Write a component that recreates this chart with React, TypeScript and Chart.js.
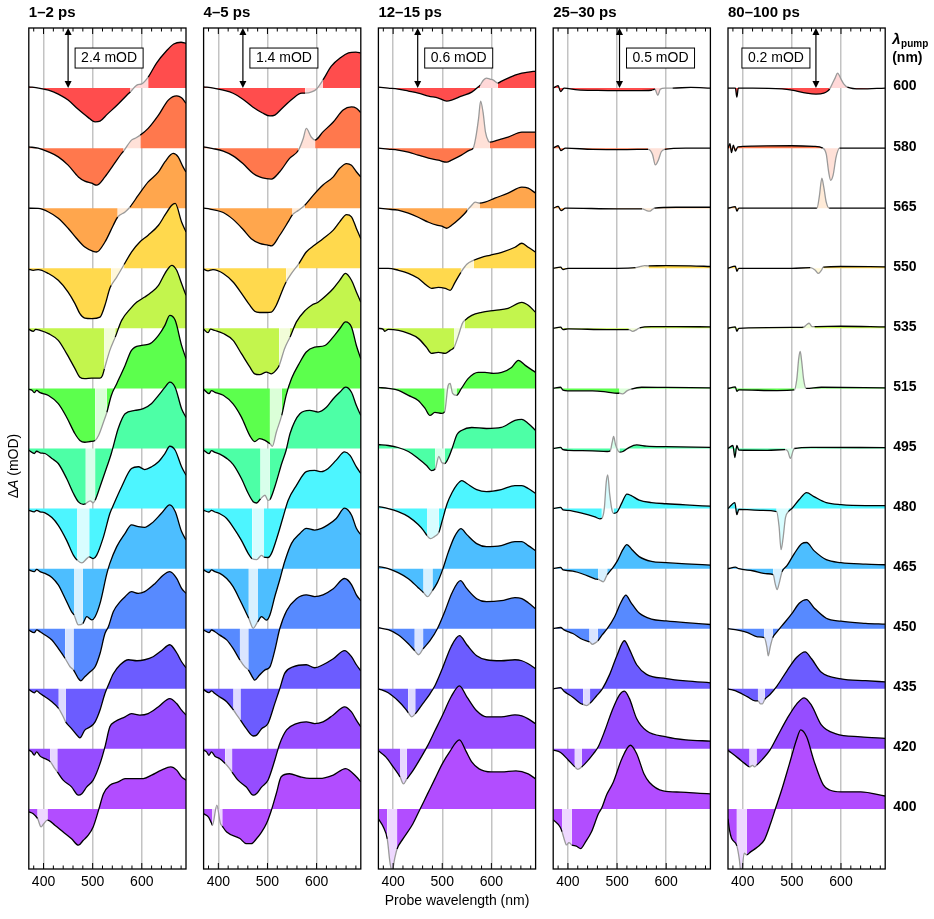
import { useEffect, useRef } from 'react';
import { Chart, registerables } from 'chart.js';

Chart.register(...registerables);

type Pt = [number, number];

// Pump wavelengths (nm), bottom trace first
const pumpNm = [400, 420, 435, 450, 465, 480, 495, 515, 535, 550, 565, 580, 600];
const pumpColor = ['#b24dff', '#964dff', '#6c5cff', '#578aff', '#4dbeff', '#4df5ff', '#4dffa6', '#5cff4d', '#c3f54d', '#ffd94d', '#ffa64d', '#ff784d', '#ff4d4d'];
// Probe window masked by pump scatter (nm)
const scatterFrom = [388, 414, 431, 444, 462, 469, 486, 505, 524, 538, 551, 563, 577];
const scatterTo = [408, 428, 445, 461, 480, 493, 505, 529, 546, 564, 576, 597, 613];

const delayLabel = ['1–2 ps', '4–5 ps', '12–15 ps', '25–30 ps', '80–100 ps'];
const offsetMOD = [2.4, 1.4, 0.6, 0.5, 0.2];
const scaleBarNm = [450, 450, 450, 505, 549];
const probeTicksNm = [380, 400, 420, 440, 460, 480, 500, 520, 540, 560, 580, 600, 620, 640, 660, 680];
const probeLabelNm = [400, 500, 600];

// ΔA spectra (mOD) as [probe nm, value], one list per pump wavelength
const dA_1to2ps: Pt[][] = [
  [[370,-0.12],[379,-0.19],[388,-0.39],[395,-0.72],[400,-0.6],[408,-0.45],[423,-0.65],[440,-0.92],[457,-1.19],[471,-1.45],[481,-1.25],[491,-1.05],[501,-0.72],[512,-0.05],[522,0.61],[535,0.95],[552,1.08],[566,1.21],[586,1.21],[603,1.21],[620,1.35],[640,1.55],[659,1.68],[671,1.55],[681,1.28],[690,1.15]],
  [[370,-0.05],[376,-0.12],[381,-0.25],[386,-0.12],[393,-0.29],[403,-0.39],[414,-0.52],[423,-0.79],[428,-0.92],[440,-1.25],[457,-1.52],[471,-1.85],[478,-1.79],[488,-1.52],[501,-1.25],[515,-0.59],[525,0.08],[535,0.88],[545,1.08],[566,1.28],[579,1.41],[596,1.35],[613,1.41],[634,1.68],[657,2.01],[671,1.81],[681,1.55],[690,1.35]],
  [[370,-0.03],[381,-0.16],[386,-0.08],[393,-0.19],[403,-0.32],[417,-0.52],[431,-0.79],[440,-1.12],[445,-1.32],[457,-1.59],[471,-1.92],[474,-1.96],[484,-1.65],[495,-1.52],[505,-1.32],[515,-0.85],[525,-0.19],[532,0.15],[542,0.6],[556,0.96],[573,1.16],[590,1.12],[606,1.16],[623,1.28],[640,1.52],[657,1.76],[671,1.44],[681,1.08],[690,0.84]],
  [[370,-0.05],[381,-0.16],[386,-0.05],[393,-0.12],[403,-0.25],[417,-0.45],[430,-0.79],[444,-1.19],[454,-1.52],[461,-1.65],[471,-1.99],[476,-2.08],[484,-1.92],[495,-1.72],[505,-1.52],[515,-0.99],[525,-0.19],[532,0.08],[542,0.68],[556,1.08],[566,1.28],[579,1.48],[593,1.41],[606,1.48],[627,1.81],[644,2.15],[657,2.28],[671,2.01],[681,1.61],[690,1.41]],
  [[370,-0.05],[381,-0.12],[386,-0.03],[393,-0.12],[403,-0.19],[417,-0.35],[430,-0.65],[444,-1.19],[457,-1.72],[462,-1.85],[471,-2.25],[480,-2.19],[488,-1.92],[498,-2.05],[505,-1.92],[515,-1.39],[529,-0.19],[535,0.21],[549,0.88],[566,1.41],[579,1.75],[593,1.68],[606,1.65],[620,1.81],[640,2.21],[657,2.55],[668,2.28],[681,1.48],[690,1.15]],
  [[370,-0.07],[381,-0.13],[386,-0.07],[393,-0.13],[403,-0.17],[417,-0.36],[430,-0.67],[447,-1.27],[461,-1.87],[469,-2.07],[478,-2.17],[488,-2.0],[493,-1.93],[501,-2.0],[508,-1.87],[522,-1.13],[535,-0.2],[542,0.13],[559,0.87],[579,1.6],[593,1.67],[606,1.56],[620,1.67],[634,1.87],[647,2.2],[657,2.49],[668,2.33],[681,1.67],[690,1.33]],
  [[370,-0.07],[381,-0.2],[386,-0.11],[393,-0.17],[403,-0.2],[417,-0.4],[430,-0.6],[447,-1.2],[461,-1.8],[471,-2.13],[481,-2.23],[486,-2.2],[495,-2.09],[501,-2.17],[505,-2.07],[515,-1.53],[529,-0.73],[538,-0.2],[552,0.8],[566,1.39],[586,1.52],[603,1.59],[620,1.8],[634,2.12],[647,2.44],[657,2.65],[668,2.44],[681,1.59],[690,1.24]],
  [[370,-0.04],[377,-0.08],[381,-0.17],[386,-0.08],[393,-0.17],[410,-0.28],[430,-0.61],[447,-1.15],[464,-1.81],[474,-2.08],[484,-2.15],[495,-2.12],[505,-2.08],[512,-1.88],[522,-1.35],[529,-0.95],[538,-0.28],[549,0.19],[566,0.92],[579,1.52],[600,1.72],[617,1.79],[634,2.12],[647,2.52],[657,2.92],[668,2.72],[681,1.72],[690,1.19]],
  [[370,-0.04],[379,-0.12],[384,-0.04],[393,-0.08],[410,-0.21],[430,-0.48],[447,-1.01],[464,-1.61],[474,-1.95],[484,-2.01],[498,-1.99],[515,-1.99],[520,-1.88],[524,-1.61],[535,-0.88],[546,-0.35],[559,0.32],[577,0.79],[590,1.05],[606,1.25],[620,1.45],[634,1.72],[647,2.19],[661,2.52],[671,2.32],[681,1.79],[690,1.32]],
  [[370,-0.04],[379,-0.08],[389,-0.05],[410,-0.21],[430,-0.48],[450,-0.95],[464,-1.41],[474,-1.81],[484,-1.99],[498,-2.01],[515,-1.95],[525,-1.48],[535,-0.8],[538,-0.68],[549,-0.35],[564,0.15],[579,0.65],[596,1.05],[613,1.32],[634,1.72],[647,2.12],[661,2.52],[668,2.59],[681,1.85],[690,1.45]],
  [[370,0],[389,-0.01],[410,-0.15],[430,-0.4],[450,-0.8],[467,-1.2],[484,-1.55],[501,-1.72],[508,-1.75],[525,-1.35],[542,-0.68],[551,-0.35],[566,-0.15],[576,0.05],[593,0.52],[613,1.05],[634,1.45],[647,1.85],[664,2.19],[674,2.05],[684,1.65],[690,1.45]],
  [[370,0.05],[389,0],[410,-0.15],[430,-0.35],[450,-0.68],[471,-1.15],[484,-1.32],[498,-1.4],[508,-1.48],[525,-1.15],[542,-0.68],[559,-0.21],[563,-0.12],[579,0.32],[586,0.39],[597,0.52],[613,0.79],[634,1.32],[654,1.92],[671,2.09],[681,2.01],[690,1.79]],
  [[370,0.05],[390,0],[410,-0.08],[430,-0.24],[450,-0.48],[470,-0.84],[490,-1.16],[505,-1.35],[515,-1.32],[530,-1.04],[550,-0.68],[570,-0.28],[577,-0.15],[590,0.12],[600,0.17],[613,0.44],[630,1.0],[650,1.48],[665,1.76],[680,1.83],[690,1.79]],
];

const dA_4to5ps: Pt[][] = [
  [[370,-0.11],[380,-0.19],[386,-0.33],[388,-0.38],[397,0.09],[404,-0.33],[408,-0.4],[417,-0.54],[444,-0.69],[457,-0.81],[467,-0.81],[478,-0.69],[488,-0.54],[498,-0.34],[508,-0.03],[518,0.36],[528,0.75],[545,0.82],[566,0.75],[586,0.71],[606,0.71],[634,0.79],[659,0.94],[681,0.75],[690,0.63]],
  [[370,-0.03],[376,-0.07],[381,-0.15],[386,-0.07],[393,-0.17],[403,-0.23],[414,-0.34],[423,-0.46],[428,-0.54],[440,-0.73],[457,-0.89],[471,-1.08],[478,-1.04],[488,-0.89],[501,-0.73],[515,-0.26],[525,0.12],[539,0.44],[559,0.59],[579,0.63],[596,0.59],[613,0.63],[634,0.79],[657,0.98],[671,0.86],[681,0.67],[690,0.51]],
  [[370,-0.02],[381,-0.09],[386,-0.05],[393,-0.11],[403,-0.19],[417,-0.3],[431,-0.5],[440,-0.65],[445,-0.73],[457,-0.93],[471,-1.1],[478,-1.08],[488,-0.93],[501,-0.81],[515,-0.34],[525,0],[535,0.36],[552,0.51],[579,0.56],[596,0.49],[613,0.56],[634,0.7],[657,0.89],[671,0.75],[681,0.56],[690,0.42]],
  [[370,-0.03],[381,-0.09],[386,-0.03],[393,-0.07],[403,-0.15],[417,-0.26],[430,-0.46],[444,-0.73],[454,-0.89],[461,-0.96],[471,-1.16],[474,-1.2],[484,-1.08],[495,-0.96],[505,-0.89],[515,-0.5],[525,0],[539,0.42],[559,0.7],[579,0.79],[596,0.75],[613,0.79],[634,0.93],[657,1.17],[671,1.03],[681,0.79],[690,0.65]],
  [[370,-0.03],[381,-0.09],[386,-0.03],[393,-0.07],[403,-0.11],[417,-0.23],[430,-0.42],[444,-0.73],[457,-1.04],[462,-1.16],[471,-1.39],[480,-1.24],[488,-1.12],[498,-1.2],[505,-1.08],[515,-0.65],[525,-0.26],[535,0.16],[549,0.59],[566,0.82],[579,0.94],[596,0.9],[610,0.94],[623,1.02],[640,1.17],[657,1.41],[671,1.25],[681,0.94],[690,0.79]],
  [[370,-0.04],[381,-0.08],[386,-0.04],[393,-0.08],[403,-0.12],[417,-0.23],[430,-0.43],[447,-0.74],[461,-1.05],[469,-1.17],[478,-1.19],[488,-1.09],[493,-1.13],[501,-1.14],[508,-1.05],[522,-0.58],[532,-0.19],[542,0.19],[559,0.54],[579,0.86],[596,0.89],[610,0.86],[623,0.93],[640,1.13],[657,1.32],[668,1.24],[681,0.97],[690,0.82]],
  [[370,-0.04],[381,-0.12],[386,-0.05],[393,-0.09],[403,-0.13],[417,-0.23],[430,-0.37],[447,-0.7],[461,-1.05],[471,-1.24],[478,-1.27],[486,-1.17],[495,-1.09],[501,-1.21],[505,-1.19],[515,-0.89],[529,-0.35],[538,-0.04],[546,0.35],[566,0.81],[586,0.89],[603,0.85],[620,0.96],[634,1.16],[647,1.31],[659,1.43],[671,1.31],[681,1.0],[690,0.77]],
  [[370,-0.02],[381,-0.12],[386,-0.05],[393,-0.09],[410,-0.16],[430,-0.36],[447,-0.67],[464,-1.1],[474,-1.24],[484,-1.17],[495,-1.21],[505,-1.29],[510,-1.35],[518,-1.02],[529,-0.63],[538,-0.16],[549,0.23],[566,0.61],[579,0.85],[596,0.96],[617,1.0],[634,1.2],[647,1.39],[659,1.55],[671,1.43],[681,1.0],[690,0.69]],
  [[370,-0.02],[379,-0.1],[384,-0.02],[393,-0.05],[410,-0.12],[430,-0.28],[447,-0.59],[464,-0.9],[474,-1.06],[484,-1.08],[498,-1.02],[508,-1.06],[520,-0.94],[524,-0.86],[535,-0.47],[546,-0.2],[559,0.15],[577,0.42],[590,0.54],[603,0.61],[620,0.77],[634,0.93],[647,1.12],[659,1.28],[671,1.12],[681,0.85],[690,0.61]],
  [[370,-0.02],[379,-0.06],[389,-0.03],[410,-0.12],[430,-0.32],[450,-0.63],[464,-0.86],[474,-1.0],[484,-1.03],[498,-1.03],[508,-1.02],[518,-0.86],[532,-0.47],[538,-0.32],[549,-0.12],[564,0.11],[579,0.38],[596,0.54],[613,0.69],[634,0.89],[647,1.08],[661,1.25],[671,1.2],[681,0.93],[690,0.69]],
  [[370,0],[383,-0.02],[410,-0.1],[430,-0.26],[450,-0.49],[467,-0.71],[484,-0.82],[501,-0.86],[508,-0.88],[525,-0.63],[542,-0.32],[551,-0.15],[563,-0.05],[576,0.07],[593,0.3],[613,0.54],[634,0.73],[647,0.93],[661,1.04],[671,1.0],[681,0.85],[690,0.73]],
  [[370,0.03],[389,-0.01],[410,-0.07],[430,-0.18],[450,-0.36],[471,-0.59],[484,-0.67],[498,-0.71],[508,-0.72],[525,-0.55],[545,-0.24],[563,-0.05],[573,0.23],[579,0.46],[589,0.26],[597,0.19],[613,0.38],[634,0.61],[654,0.89],[671,0.96],[681,0.93],[690,0.83]],
  [[370,0.03],[390,0],[410,-0.05],[430,-0.12],[450,-0.26],[470,-0.44],[490,-0.58],[505,-0.65],[515,-0.63],[530,-0.47],[550,-0.26],[570,-0.12],[577,-0.12],[590,-0.09],[600,-0.02],[613,0.19],[630,0.51],[650,0.72],[665,0.82],[680,0.84],[690,0.82]],
];

const dA_12to15ps: Pt[][] = [
  [[370,-0.1],[380,-0.18],[388,-0.3],[394,-0.55],[398,-0.62],[403,-0.5],[408,-0.4],[420,-0.3],[440,-0.15],[455,0],[470,0.15],[485,0.3],[500,0.45],[515,0.57],[535,0.69],[548,0.58],[560,0.47],[575,0.4],[600,0.37],[620,0.37],[650,0.38],[675,0.35],[690,0.3]],
  [[370,-0.02],[385,-0.08],[400,-0.18],[414,-0.28],[421,-0.35],[428,-0.3],[440,-0.22],[455,-0.1],[470,0.03],[485,0.18],[500,0.33],[518,0.52],[535,0.63],[550,0.52],[570,0.38],[590,0.32],[620,0.32],[648,0.34],[662,0.33],[675,0.3],[690,0.25]],
  [[370,0],[390,-0.04],[410,-0.12],[425,-0.2],[431,-0.24],[438,-0.28],[445,-0.25],[460,-0.15],[475,-0.05],[485,0.03],[500,0.2],[518,0.42],[535,0.53],[550,0.44],[570,0.33],[590,0.29],[620,0.28],[648,0.29],[662,0.28],[675,0.25],[690,0.2]],
  [[370,0.01],[390,-0.01],[410,-0.06],[431,-0.15],[444,-0.22],[452,-0.26],[461,-0.2],[475,-0.12],[490,0],[505,0.17],[520,0.36],[537,0.48],[550,0.4],[570,0.3],[590,0.27],[620,0.28],[648,0.31],[662,0.3],[675,0.26],[690,0.2]],
  [[370,0.02],[390,0],[410,-0.04],[431,-0.1],[451,-0.19],[462,-0.24],[470,-0.28],[480,-0.22],[490,-0.14],[500,-0.02],[512,0.16],[525,0.32],[538,0.4],[550,0.34],[570,0.25],[590,0.22],[620,0.23],[648,0.27],[662,0.27],[675,0.23],[690,0.18]],
  [[370,0.02],[390,0],[410,-0.03],[431,-0.08],[451,-0.16],[462,-0.22],[469,-0.27],[476,-0.3],[484,-0.28],[493,-0.24],[500,-0.12],[510,0.05],[520,0.16],[530,0.24],[540,0.28],[550,0.25],[570,0.19],[590,0.17],[620,0.19],[648,0.23],[662,0.23],[675,0.2],[690,0.15]],
  [[370,0.04],[390,0.03],[410,0.01],[431,-0.03],[451,-0.1],[468,-0.17],[478,-0.22],[486,-0.2],[493,-0.08],[499,-0.14],[505,-0.15],[512,-0.1],[520,0],[530,0.14],[539,0.18],[560,0.21],[590,0.2],[620,0.21],[648,0.28],[662,0.29],[675,0.25],[690,0.18]],
  [[370,0.01],[390,0],[411,-0.02],[431,-0.07],[451,-0.12],[465,-0.2],[475,-0.27],[485,-0.24],[499,-0.25],[505,-0.23],[512,0.03],[516,0.05],[521,-0.05],[529,-0.07],[539,0],[553,0.1],[573,0.16],[587,0.16],[604,0.15],[621,0.16],[641,0.21],[655,0.28],[669,0.23],[690,0.16]],
  [[370,0],[380,-0.01],[383,-0.03],[390,-0.01],[411,-0.02],[431,-0.05],[451,-0.1],[468,-0.19],[478,-0.25],[492,-0.24],[506,-0.25],[516,-0.22],[524,-0.19],[533,-0.07],[541,0.05],[546,0.08],[560,0.13],[580,0.16],[607,0.18],[634,0.2],[662,0.26],[675,0.23],[690,0.16]],
  [[370,0],[390,0],[411,-0.02],[431,-0.05],[451,-0.1],[468,-0.17],[478,-0.2],[492,-0.19],[506,-0.2],[516,-0.22],[526,-0.14],[538,-0.04],[550,0.04],[564,0.08],[580,0.11],[597,0.13],[621,0.16],[648,0.21],[662,0.25],[675,0.21],[690,0.16]],
  [[370,0],[390,-0.01],[410,-0.02],[431,-0.05],[451,-0.09],[472,-0.14],[489,-0.17],[499,-0.18],[509,-0.2],[519,-0.17],[536,-0.1],[548,-0.04],[551,-0.02],[560,0.03],[567,0.06],[576,0.05],[587,0.06],[607,0.1],[634,0.15],[662,0.21],[675,0.2],[690,0.15]],
  [[370,0],[390,-0.01],[410,-0.02],[431,-0.04],[451,-0.07],[472,-0.1],[492,-0.12],[509,-0.14],[519,-0.12],[539,-0.07],[556,-0.02],[563,0],[568,0.1],[574,0.3],[578,0.47],[583,0.36],[588,0.16],[594,0.07],[597,0.06],[613,0.08],[634,0.11],[662,0.16],[682,0.16],[690,0.16]],
  [[370,0.01],[390,0],[410,-0.01],[431,-0.03],[451,-0.05],[472,-0.08],[492,-0.1],[509,-0.13],[519,-0.12],[539,-0.08],[560,-0.04],[573,0.01],[577,0.03],[584,0.08],[590,0.1],[597,0.09],[604,0.08],[613,0.05],[621,0.07],[634,0.1],[648,0.13],[662,0.15],[675,0.16],[690,0.17]],
];

const dA_25to30ps: Pt[][] = [
  [[370,-0.09],[384,-0.15],[388,-0.19],[393,-0.26],[397,-0.3],[402,-0.28],[408,-0.3],[417,-0.31],[426,-0.33],[435,-0.28],[448,-0.19],[462,-0.04],[469,0.01],[479,0.12],[492,0.22],[510,0.42],[527,0.53],[540,0.46],[555,0.29],[566,0.22],[594,0.15],[630,0.14],[669,0.13],[690,0.125]],
  [[370,-0.01],[385,-0.03],[400,-0.09],[414,-0.15],[420,-0.17],[428,-0.15],[440,-0.1],[452,-0.04],[462,0.02],[475,0.15],[490,0.32],[505,0.45],[515,0.48],[525,0.42],[540,0.25],[560,0.15],[600,0.1],[640,0.075],[690,0.065]],
  [[370,0],[385,0.01],[392,-0.02],[410,-0.07],[425,-0.12],[431,-0.13],[438,-0.14],[445,-0.12],[458,-0.06],[470,0],[485,0.12],[500,0.28],[515,0.4],[525,0.33],[540,0.2],[560,0.12],[600,0.085],[640,0.065],[690,0.05]],
  [[370,0],[385,0.01],[392,-0.01],[410,-0.04],[430,-0.09],[444,-0.11],[450,-0.13],[455,-0.12],[461,-0.1],[470,-0.05],[480,0],[495,0.1],[508,0.22],[518,0.28],[528,0.22],[545,0.13],[570,0.08],[600,0.065],[640,0.05],[690,0.035]],
  [[370,0],[385,0.01],[390,-0.01],[410,-0.02],[440,-0.06],[455,-0.085],[462,-0.09],[467,-0.1],[472,-0.11],[480,-0.05],[490,0],[500,0.06],[512,0.16],[520,0.2],[530,0.16],[545,0.1],[570,0.06],[600,0.05],[640,0.04],[690,0.03]],
  [[370,0],[385,0.01],[390,-0.01],[400,-0.015],[430,-0.04],[455,-0.07],[465,-0.085],[469,-0.08],[474,0],[478,0.22],[481,0.28],[485,0.12],[490,-0.02],[493,-0.04],[500,-0.03],[510,0.05],[520,0.12],[528,0.11],[545,0.07],[570,0.05],[600,0.04],[640,0.03],[690,0.02]],
  [[370,0],[385,0.01],[390,-0.01],[400,-0.015],[450,-0.02],[480,-0.025],[486,-0.02],[490,0.05],[493,0.1],[497,0.03],[505,-0.03],[512,-0.025],[525,0.01],[540,0.03],[560,0.02],[600,0.015],[690,0.01]],
  [[370,0],[385,0.01],[390,-0.015],[400,-0.02],[450,-0.02],[480,-0.03],[500,-0.04],[505,-0.04],[512,-0.045],[520,-0.02],[529,-0.005],[550,0.01],[600,0.008],[690,0.005]],
  [[370,0],[385,0.01],[390,-0.01],[400,-0.005],[480,-0.01],[524,-0.01],[532,-0.025],[540,-0.01],[546,0.005],[570,0.015],[620,0.015],[690,0.012]],
  [[370,0],[385,0.01],[390,-0.01],[400,0],[500,0],[538,0.005],[548,0.015],[556,0.022],[564,0.02],[600,0.022],[650,0.02],[690,0.015]],
  [[370,0],[380,0.015],[386,-0.02],[395,0],[500,-0.005],[551,-0.005],[560,-0.02],[566,-0.025],[572,-0.01],[576,0],[620,0.008],[690,0.008]],
  [[370,0],[380,0.02],[386,-0.02],[395,0],[450,-0.01],[520,-0.012],[563,-0.01],[572,-0.05],[578,-0.14],[584,-0.1],[590,-0.03],[597,-0.01],[640,0],[690,0]],
  [[370,0],[380,0.02],[385,-0.03],[392,0],[420,-0.015],[460,-0.02],[500,-0.022],[540,-0.022],[570,-0.018],[577,-0.01],[583,-0.06],[588,-0.01],[597,0],[613,0],[650,0.005],[690,0]],
];

const dA_80to100ps: Pt[][] = [
  [[370,-0.033],[373,-0.07],[377,-0.097],[388,-0.123],[393,-0.167],[397,-0.22],[403,-0.147],[408,-0.153],[416,-0.143],[430,-0.127],[444,-0.103],[457,-0.047],[467,0.003],[480,0.067],[495,0.15],[510,0.233],[518,0.263],[530,0.24],[545,0.16],[564,0.08],[577,0.063],[600,0.057],[640,0.057],[690,0.043]],
  [[370,-0.005],[390,-0.03],[405,-0.05],[414,-0.06],[420,-0.055],[424,-0.06],[428,-0.055],[440,-0.035],[455,-0.005],[470,0.04],[490,0.1],[510,0.15],[525,0.17],[540,0.145],[560,0.08],[590,0.05],[640,0.04],[690,0.035]],
  [[370,0],[390,-0.01],[410,-0.027],[425,-0.04],[431,-0.04],[436,-0.05],[440,-0.05],[445,-0.035],[455,-0.02],[470,0.01],[490,0.06],[510,0.105],[527,0.123],[540,0.1],[560,0.055],[600,0.033],[650,0.027],[690,0.023]],
  [[370,0],[390,-0.005],[410,-0.013],[430,-0.027],[444,-0.03],[449,-0.06],[452,-0.09],[456,-0.06],[461,-0.03],[470,-0.01],[480,0.01],[500,0.05],[515,0.085],[530,0.097],[545,0.07],[570,0.035],[600,0.025],[650,0.018],[690,0.015]],
  [[370,0],[385,0.005],[392,0],[420,-0.007],[450,-0.017],[462,-0.02],[466,-0.05],[470,-0.07],[474,-0.05],[480,-0.01],[490,0.01],[505,0.05],[520,0.083],[530,0.087],[545,0.06],[570,0.03],[600,0.02],[650,0.015],[690,0.013]],
  [[370,0],[384,0.02],[388,-0.02],[392,-0.003],[440,-0.006],[469,-0.01],[474,-0.06],[478,-0.137],[482,-0.1],[487,-0.03],[493,-0.01],[500,0],[515,0.03],[530,0.053],[545,0.04],[570,0.02],[600,0.013],[650,0.01],[690,0.01]],
  [[370,0],[380,0.01],[384,-0.03],[388,0.01],[392,-0.005],[450,-0.006],[486,-0.004],[492,-0.01],[497,-0.033],[502,-0.01],[505,0],[540,0.004],[690,0.003]],
  [[370,0],[385,0.005],[388,-0.01],[392,-0.005],[470,-0.007],[505,-0.005],[510,0.03],[514,0.1],[517,0.123],[520,0.09],[524,0.03],[529,0],[560,0.004],[690,0.002]],
  [[370,0],[385,0.005],[388,-0.01],[392,0],[500,0.003],[524,0.004],[530,0.012],[535,0.017],[541,0.006],[546,0.006],[600,0.007],[690,0.005]],
  [[370,0],[385,0.007],[388,-0.01],[392,0],[500,0],[538,0.002],[548,-0.007],[554,-0.017],[560,-0.007],[564,0.004],[600,0.006],[690,0.005]],
  [[370,0],[385,0.005],[388,-0.01],[392,0],[450,0],[530,0],[551,0],[556,0.04],[561,0.1],[565,0.07],[570,0.02],[576,0],[620,0],[690,0]],
  [[370,0],[374,0.015],[377,-0.015],[381,0.01],[385,-0.01],[390,0.004],[420,0.007],[500,0.008],[545,0.006],[563,0],[570,-0.02],[575,-0.08],[579,-0.107],[584,-0.09],[590,-0.03],[597,0],[640,0],[690,0]],
  [[370,0],[385,0],[388,-0.03],[391,0],[420,0],[480,-0.003],[500,-0.007],[530,-0.017],[549,-0.02],[565,-0.017],[573,-0.01],[577,-0.003],[583,0.017],[588,0.033],[593,0.05],[600,0.03],[606,0.013],[613,0.003],[640,-0.003],[690,0]],
];

const spectra = [dA_1to2ps, dA_4to5ps, dA_12to15ps, dA_25to30ps, dA_80to100ps];

const W = 934;
const H = 919;
const FRAME_TOP = 28;
const AXIS_H = 50;
const PANEL_X0 = 28.8;
const PANEL_PITCH = 174.8;
const PANEL_W = 157.2;
const FONT = '"Liberation Sans", Arial, Helvetica, sans-serif';

function tint(hex: string, f: number) {
  const n = parseInt(hex.slice(1), 16);
  const m = (c: number) => Math.round(c + (255 - c) * f);
  return `rgb(${m((n >> 16) & 255)},${m((n >> 8) & 255)},${m(n & 255)})`;
}

function decorations(p: number) {
  const lastPanel = p === spectra.length - 1;
  return {
    id: 'decor' + p,
    afterDatasetsDraw(chart: any) {
      const { ctx, chartArea: a, scales } = chart;
      const xs = scales.x;
      const ys = scales.y;
      ctx.save();

      // frame and inward ticks
      ctx.strokeStyle = '#000';
      ctx.lineWidth = 1.3;
      ctx.strokeRect(a.left, a.top, a.right - a.left, a.bottom - a.top);
      ctx.lineWidth = 1;
      for (const v of probeTicksNm) {
        const px = xs.getPixelForValue(v);
        const len = probeLabelNm.includes(v) ? 6 : 3.5;
        ctx.beginPath();
        ctx.moveTo(px, a.top);
        ctx.lineTo(px, a.top + len);
        ctx.moveTo(px, a.bottom);
        ctx.lineTo(px, a.bottom - len);
        ctx.stroke();
      }

      // offset scale bar
      const ax = xs.getPixelForValue(scaleBarNm[p]);
      const y0 = a.top;
      const y1 = ys.getPixelForValue(spectra[p].length - 1);
      ctx.fillStyle = '#000';
      ctx.lineWidth = 1.2;
      ctx.beginPath();
      ctx.moveTo(ax, y0 + 4);
      ctx.lineTo(ax, y1 - 4);
      ctx.stroke();
      const head = (ty: number, dir: number) => {
        ctx.beginPath();
        ctx.moveTo(ax, ty);
        ctx.lineTo(ax - 3.5, ty + dir * 7);
        ctx.lineTo(ax + 3.5, ty + dir * 7);
        ctx.closePath();
        ctx.fill();
      };
      head(y0, 1);
      head(y1, -1);
      const label = `${offsetMOD[p]} mOD`;
      ctx.font = `14px ${FONT}`;
      const bw = ctx.measureText(label).width + 12;
      const bh = 20;
      const bx = lastPanel ? ax - 6 - bw : ax + 7;
      const by = (y0 + y1) / 2 - bh / 2;
      ctx.fillStyle = '#fff';
      ctx.fillRect(bx, by, bw, bh);
      ctx.lineWidth = 1;
      ctx.strokeRect(bx, by, bw, bh);
      ctx.fillStyle = '#000';
      ctx.textAlign = 'center';
      ctx.textBaseline = 'middle';
      ctx.fillText(label, bx + bw / 2, by + bh / 2 + 0.5);

      // delay title
      ctx.textAlign = 'left';
      ctx.textBaseline = 'alphabetic';
      ctx.font = `bold 15px ${FONT}`;
      ctx.fillText(delayLabel[p], a.left, 17);

      if (p === 0) {
        ctx.save();
        ctx.translate(14, 466);
        ctx.rotate(-Math.PI / 2);
        ctx.textBaseline = 'middle';
        const parts: [string, string][] = [['Δ', `14px ${FONT}`], ['A', `italic 14px ${FONT}`], [' (mOD)', `14px ${FONT}`]];
        let total = 0;
        for (const [t, f] of parts) { ctx.font = f; total += ctx.measureText(t).width; }
        let cx = -total / 2;
        for (const [t, f] of parts) { ctx.font = f; ctx.fillText(t, cx, 0); cx += ctx.measureText(t).width; }
        ctx.restore();
      }
      if (p === 2) {
        ctx.font = `14px ${FONT}`;
        ctx.textAlign = 'center';
        ctx.textBaseline = 'middle';
        ctx.fillText('Probe wavelength (nm)', (a.left + a.right) / 2, 901);
      }
      if (lastPanel) {
        const lx = a.right + 7;
        ctx.textAlign = 'left';
        ctx.textBaseline = 'alphabetic';
        ctx.font = `italic bold 15px ${FONT}`;
        ctx.fillText('λ', lx, 44);
        const lw = ctx.measureText('λ').width;
        ctx.font = `bold 10px ${FONT}`;
        ctx.fillText('pump', lx + lw + 0.5, 47);
        ctx.font = `bold 14px ${FONT}`;
        ctx.fillText('(nm)', lx, 62);
      }
      ctx.restore();
    },
  };
}

function makeConfig(p: number): any {
  const step = offsetMOD[p];
  const left = PANEL_X0 + PANEL_PITCH * p;
  const right = left + PANEL_W;
  const lastPanel = p === spectra.length - 1;

  const datasets = spectra[p].map((trace, k) => {
    const lo = scatterFrom[k];
    const hi = scatterTo[k];
    const col = pumpColor[k];
    const light = tint(col, 0.78);
    const masked = (c: any) => {
      const mid = (c.p0.parsed.x + c.p1.parsed.x) / 2;
      return mid > lo && mid < hi;
    };
    return {
      label: `${pumpNm[k]} nm`,
      data: trace.map(([x, v]) => ({ x, y: k + v / step })),
      borderColor: '#000',
      backgroundColor: col,
      borderWidth: 1.3,
      borderJoinStyle: 'round',
      pointRadius: 0,
      pointHoverRadius: 0,
      pointHitRadius: 0,
      cubicInterpolationMode: 'monotone',
      fill: { value: k },
      segment: {
        borderColor: (c: any) => (masked(c) ? '#9a9a9a' : '#000'),
        backgroundColor: (c: any) => (masked(c) ? light : col),
      },
    };
  });

  const scales: any = {
    x: {
      type: 'linear',
      min: 370,
      max: 690,
      afterBuildTicks: (s: any) => { s.ticks = probeTicksNm.map((value) => ({ value })); },
      afterFit: (s: any) => { s.height = AXIS_H; },
      grid: {
        color: (c: any) => (c.tick && probeLabelNm.includes(c.tick.value) ? '#c3c3c3' : 'rgba(0,0,0,0)'),
        lineWidth: 1.5,
        drawTicks: false,
      },
      border: { display: false },
      ticks: {
        autoSkip: false,
        maxRotation: 0,
        padding: 5,
        color: '#000',
        font: { family: FONT, size: 14 },
        callback: (v: number) => (probeLabelNm.includes(v) ? String(v) : ''),
      },
    },
    y: { type: 'linear', min: -1, max: 13, display: false },
  };
  if (lastPanel) {
    scales.pump = {
      type: 'linear',
      axis: 'y',
      position: 'right',
      min: -1,
      max: 13,
      afterBuildTicks: (s: any) => { s.ticks = pumpNm.map((_, k) => ({ value: k })); },
      afterFit: (s: any) => { s.width = W - right; },
      grid: { display: false, drawTicks: false },
      border: { display: false },
      ticks: {
        autoSkip: false,
        padding: 8,
        labelOffset: -1.5,
        color: '#000',
        font: { family: FONT, size: 14, weight: 'bold' },
        callback: (v: number) => String(pumpNm[v]),
      },
    };
  }

  return {
    type: 'line',
    data: { datasets },
    options: {
      responsive: false,
      devicePixelRatio: 1,
      animation: false,
      events: [],
      layout: { padding: { left, right: lastPanel ? 0 : W - right, top: FRAME_TOP, bottom: 0 } },
      scales,
      plugins: {
        legend: { display: false },
        tooltip: { enabled: false },
        filler: { propagate: false },
      },
    },
    plugins: [decorations(p)],
  };
}

function Panel({ p }: { p: number }) {
  const ref = useRef<HTMLCanvasElement>(null);
  useEffect(() => {
    const chart = new Chart(ref.current as HTMLCanvasElement, makeConfig(p));
    return () => chart.destroy();
  }, [p]);
  return (
    <canvas
      ref={ref}
      width={W}
      height={H}
      style={{ position: 'absolute', left: 0, top: 0, width: W, height: H }}
    />
  );
}

export default function App() {
  return (
    <div style={{ position: 'absolute', left: 0, top: 0, width: W, height: H, background: '#fff', overflow: 'hidden' }}>
      {spectra.map((_, p) => (
        <Panel key={p} p={p} />
      ))}
    </div>
  );
}
